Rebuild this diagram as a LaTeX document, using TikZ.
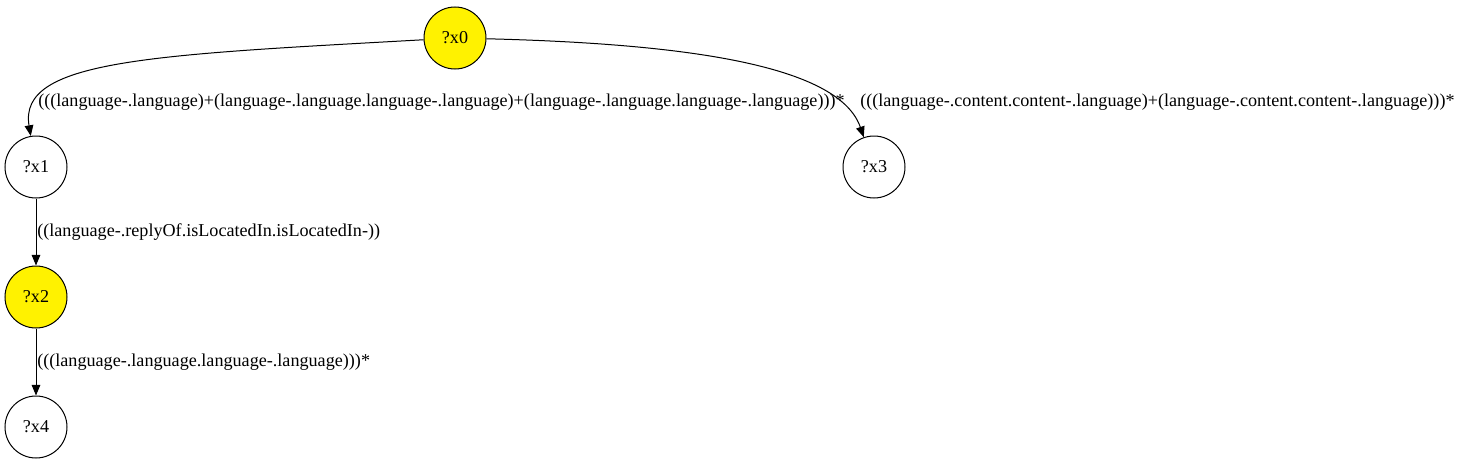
\documentclass[tikz,border=0pt]{standalone}
\usepackage{fontspec}
\setmainfont{Liberation Serif}
\usetikzlibrary{arrows.meta}
\begin{document}
\begin{tikzpicture}[x=0.75pt,y=-0.75pt,
  vnode/.style={circle,draw,line width=0.75pt,minimum size=46.5pt,inner sep=0pt,font=\fontsize{13.6}{16}\selectfont},
  hl/.style={fill=yellow},
  elabel/.style={anchor=west,inner sep=0pt,font=\fontsize{13.6}{16}\selectfont},
  edge/.style={line width=0.75pt,-{Triangle[length=8pt,width=6.5pt]}}]
\useasboundingbox (0,0) rectangle (1461,464);
\node[vnode,hl] (x0) at (455,38) {?x0};
\node[vnode] (x1) at (36,167) {?x1};
\node[vnode] (x3) at (874,167) {?x3};
\node[vnode,hl] (x2) at (36,297) {?x2};
\node[vnode] (x4) at (36,427) {?x4};
\draw[edge] (x0) .. controls (150,55) and (18,60) .. (x1);
\draw[edge] (x0) .. controls (700,44) and (840,68) .. (x3);
\draw[edge] (x1) -- (x2);
\draw[edge] (x2) -- (x4);
\node[elabel] (l1) at (38,102) {(((language-.language)+(language-.language.language-.language)+(language-.language.language-.language)))*};
\node[elabel] (l2) at (860,102) {(((language-.content.content-.language)+(language-.content.content-.language)))*};
\node[elabel] (l3) at (37,232) {((language-.replyOf.isLocatedIn.isLocatedIn-))};
\node[elabel] (l4) at (37,362) {(((language-.language.language-.language)))*};
\end{tikzpicture}
\end{document}
